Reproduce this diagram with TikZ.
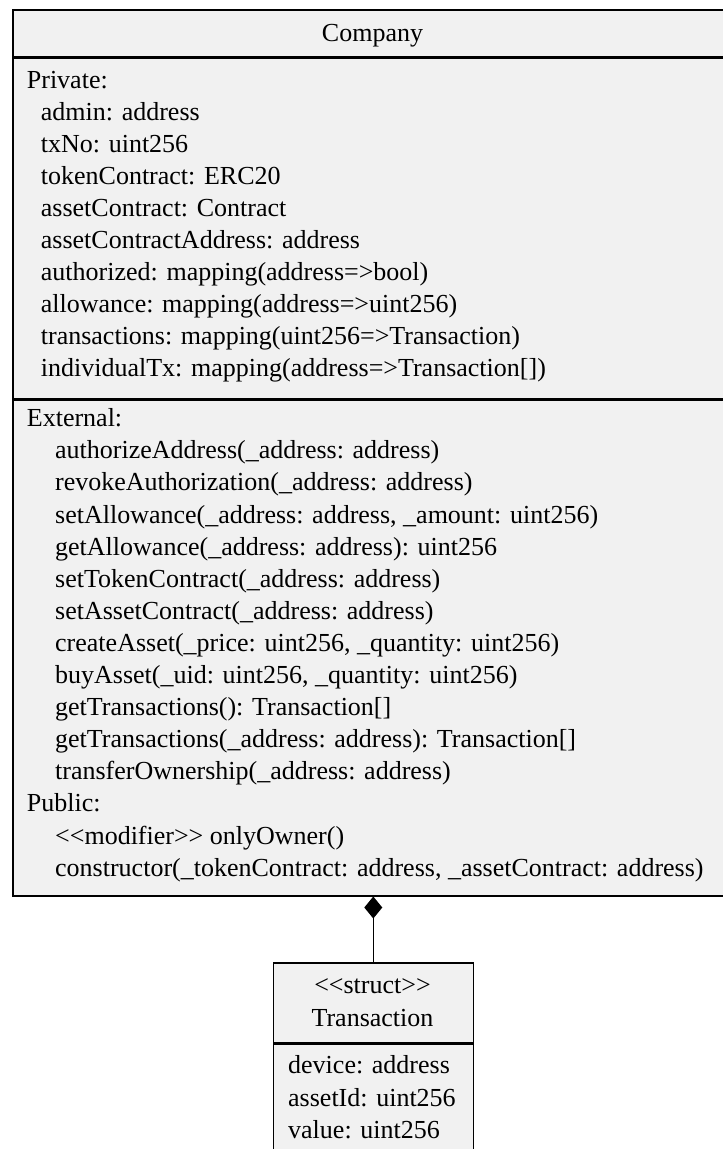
\documentclass[tikz,border=0pt]{standalone}
\usepackage{fontspec}
\newfontfamily\umlfont{Liberation Serif}
\usetikzlibrary{arrows.meta}
\definecolor{boxfill}{HTML}{F1F1F1}
\tikzset{
  compart/.style={draw=black, fill=boxfill, line width=1.6pt, rectangle,
    inner sep=0pt, anchor=north west},
  member/.style={anchor=base west, inner sep=0pt,
    font=\umlfont\fontsize{26}{32}\selectfont},
  classname/.style={anchor=base, inner sep=0pt,
    font=\umlfont\fontsize{26}{32}\selectfont},
  composition/.style={line width=1.6pt, line join=miter,
    -{Diamond[length=22pt,width=18pt]}}
}
\begin{document}
\begin{tikzpicture}[x=1pt,y=-1pt]
\useasboundingbox (0,0) rectangle (723,1149);

% Company class: name, attribute and operation compartments
\node[compart, minimum width=721pt, minimum height=47pt] (cHead) at (12,9) {};
\node[compart, minimum width=721pt, minimum height=340pt] (cAttr) at (cHead.south west) {};
\node[compart, minimum width=721pt, minimum height=495.7pt] (cOps) at (cAttr.south west) {};
\node[classname] (cName) at (372.5,41) {Company};

\node[member] (privLabel) at (26.7,88.3) {Private:};
\foreach \txt [count=\i] in {
  admin: address,
  txNo: uint256,
  tokenContract: ERC20,
  assetContract: Contract,
  assetContractAddress: address,
  {authorized: mapping(address=>bool)},
  {allowance: mapping(address=>uint256)},
  {transactions: mapping(uint256=>Transaction)},
  {individualTx: mapping(address=>Transaction[])}}
  \node[member] (attr\i) at (40.7,{88.3+32*\i}) {\txt};

\node[member] (extLabel) at (26.7,426.7) {External:};
\foreach \txt [count=\i] in {
  {authorizeAddress(\_address: address)},
  {revokeAuthorization(\_address: address)},
  {setAllowance(\_address: address, \_amount: uint256)},
  {getAllowance(\_address: address): uint256},
  {setTokenContract(\_address: address)},
  {setAssetContract(\_address: address)},
  {createAsset(\_price: uint256, \_quantity: uint256)},
  {buyAsset(\_uid: uint256, \_quantity: uint256)},
  {getTransactions(): Transaction[]},
  {getTransactions(\_address: address): Transaction[]},
  {transferOwnership(\_address: address)}}
  \node[member] (ext\i) at (55,{426.7+32.1*\i}) {\txt};

\node[member] (pubLabel) at (26.7,811.9) {Public:};
\node[member] (pub1) at (55,844.0) {<<modifier>> onlyOwner()};
\node[member] (pub2) at (55,876.1) {constructor(\_tokenContract: address, \_assetContract: address)};

% Transaction struct
\node[compart, minimum width=200pt, minimum height=80pt] (tHead) at (272.5,962) {};
\node[compart, minimum width=200pt, minimum height=130pt] (tAttr) at (tHead.south west) {};
\node[classname] (tStereo) at (372.5,993) {<<struct>>};
\node[classname] (tName) at (372.5,1026.5) {Transaction};
\node[member] (tf1) at (288,1073) {device: address};
\node[member] (tf2) at (288,1106) {assetId: uint256};
\node[member] (tf3) at (288,1138) {value: uint256};

% composition: Company owns Transaction
\draw[composition] (tHead.north) -- (cOps.south);
\end{tikzpicture}
\end{document}
